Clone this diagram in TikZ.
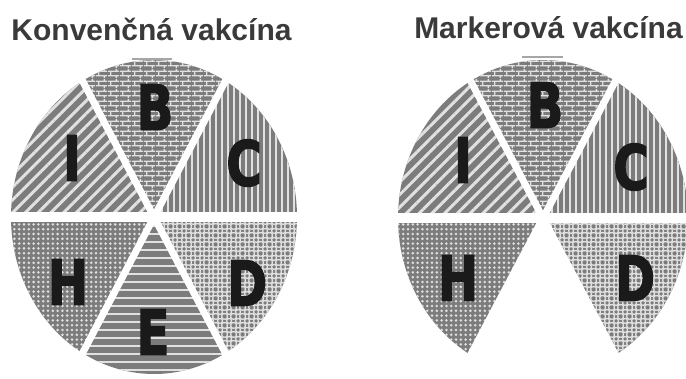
\documentclass[tikz,border=0pt]{standalone}
\usepackage{fontspec}
\setmainfont{Liberation Sans}
\newfontfamily\letterfont[BoldFeatures={FakeBold=2.5}]{DejaVu Sans}
\usetikzlibrary{patterns,patterns.meta,calc}
\definecolor{secgray}{RGB}{124,124,124}
\definecolor{patlight}{RGB}{225,225,225}
\definecolor{inkdark}{RGB}{26,26,26}
\definecolor{titlegray}{RGB}{58,58,58}

\tikzdeclarepattern{
  name=brickwall,
  bottom left={(0pt,0pt)},
  top right={(12pt,10pt)},
  tile size={(12pt,10pt)},
  code={
    \draw[line width=1.4pt] (0pt,2.5pt) -- (12pt,2.5pt) (0pt,7.5pt) -- (12pt,7.5pt)
      (3pt,2.5pt) -- (3pt,7.5pt) (9pt,7.5pt) -- (9pt,10pt) (9pt,0pt) -- (9pt,2.5pt);
  }
}
\tikzdeclarepattern{
  name=rings,
  bottom left={(0pt,0pt)},
  top right={(9pt,9pt)},
  tile size={(9pt,9pt)},
  code={
    \draw[line width=1.4pt] (4.5pt,4.5pt) circle[radius=2.7pt]
      (0pt,0pt) circle[radius=2.7pt] (9pt,0pt) circle[radius=2.7pt]
      (0pt,9pt) circle[radius=2.7pt] (9pt,9pt) circle[radius=2.7pt];
  }
}

\tikzset{
  sec_diag/.style={fill=secgray,postaction={pattern={Lines[angle=45,distance=9pt,line width=3pt]},pattern color=patlight}},
  sec_brick/.style={fill=secgray,postaction={pattern=brickwall,pattern color=patlight}},
  sec_vert/.style={fill=secgray,postaction={pattern={Lines[angle=90,distance=6pt,line width=1.6pt]},pattern color=patlight}},
  sec_rings/.style={fill=secgray,postaction={pattern=rings,pattern color=patlight}},
  sec_horiz/.style={fill=secgray,postaction={pattern={Lines[angle=0,distance=8pt,line width=2pt]},pattern color=patlight}},
  sec_dots/.style={fill=secgray,postaction={pattern={Dots[radius=1.4pt,distance=4.8pt]},pattern color=patlight}},
  gap_h/.style={draw=white,line width=10pt},
  gap_d/.style={draw=white,line width=7pt},
  letter/.style={inner sep=0pt,text=inkdark,xscale=0.78,font=\letterfont\bfseries\fontsize{62}{62}\selectfont},
  title_txt/.style={inner sep=0pt,anchor=base,text=titlegray,font=\bfseries\fontsize{30}{30}\selectfont},
  top_mark/.style={draw=gray!70,line width=1.5pt},
}

\begin{document}
\begin{tikzpicture}[x=1pt,y=1pt]
  \useasboundingbox[fill=white] (0,0) rectangle (686,378);

  % Konvencna vakcina
  \node[title_txt] (tl) at (151.5,337) {Konvenčná vakcína};
  \coordinate (lc) at (154,161);
  \path[sec_vert]  (lc) -- ++(0:143pt and 157pt) arc[start angle=0,end angle=60,x radius=143pt,y radius=157pt] -- cycle;
  \path[sec_brick] (lc) -- ++(60:143pt and 157pt) arc[start angle=60,end angle=120,x radius=143pt,y radius=157pt] -- cycle;
  \path[sec_diag]  (lc) -- ++(120:143pt and 157pt) arc[start angle=120,end angle=180,x radius=143pt,y radius=157pt] -- cycle;
  \path[sec_dots]  (lc) -- ++(180:143pt and 157pt) arc[start angle=180,end angle=240,x radius=143pt,y radius=157pt] -- cycle;
  \path[sec_horiz] (lc) -- ++(240:143pt and 157pt) arc[start angle=240,end angle=300,x radius=143pt,y radius=157pt] -- cycle;
  \path[sec_rings] (lc) -- ++(300:143pt and 157pt) arc[start angle=300,end angle=360,x radius=143pt,y radius=157pt] -- cycle;
  \draw[gap_h] ($(lc)+(-150,0)$) -- ($(lc)+(150,0)$);
  \draw[gap_d] ($(lc)+(60:150pt and 165pt)$) -- ($(lc)+(240:150pt and 165pt)$);
  \draw[gap_d] ($(lc)+(120:150pt and 165pt)$) -- ($(lc)+(300:150pt and 165pt)$);
  \draw[top_mark] (132,319) -- (172,319);
  \node[letter] (lB) at (155,271) {B};
  \node[letter] (lI) at (72,220) {I};
  \node[letter] (lC) at (244,215) {C};
  \node[letter] (lH) at (68,96) {H};
  \node[letter] (lD) at (247,95) {D};
  \node[letter] (lE) at (153,46) {E};

  % Markerova vakcina
  \node[title_txt] (tr) at (548.5,339) {Markerová vakcína};
  \coordinate (rc) at (543,160);
  \path[sec_vert]  (rc) -- ++(0:145pt and 158pt) arc[start angle=0,end angle=60,x radius=145pt,y radius=158pt] -- cycle;
  \path[sec_brick] (rc) -- ++(60:145pt and 158pt) arc[start angle=60,end angle=120,x radius=145pt,y radius=158pt] -- cycle;
  \path[sec_diag]  (rc) -- ++(120:145pt and 158pt) arc[start angle=120,end angle=180,x radius=145pt,y radius=158pt] -- cycle;
  \path[sec_dots]  (rc) -- ++(180:145pt and 158pt) arc[start angle=180,end angle=240,x radius=145pt,y radius=158pt] -- cycle;
  \path[sec_rings] (rc) -- ++(300:145pt and 158pt) arc[start angle=300,end angle=360,x radius=145pt,y radius=158pt] -- cycle;
  \draw[gap_h] ($(rc)+(-152,0)$) -- ($(rc)+(152,0)$);
  \draw[gap_d] ($(rc)+(60:152pt and 166pt)$) -- ($(rc)+(240:152pt and 166pt)$);
  \draw[gap_d] ($(rc)+(120:152pt and 166pt)$) -- ($(rc)+(300:152pt and 166pt)$);
  \draw[top_mark] (522,321) -- (563,321);
  \node[letter] (rB) at (545,273) {B};
  \node[letter] (rI) at (463,218) {I};
  \node[letter] (rC) at (631,211) {C};
  \node[letter] (rH) at (458,100) {H};
  \node[letter] (rD) at (635,100) {D};
\end{tikzpicture}
\end{document}
